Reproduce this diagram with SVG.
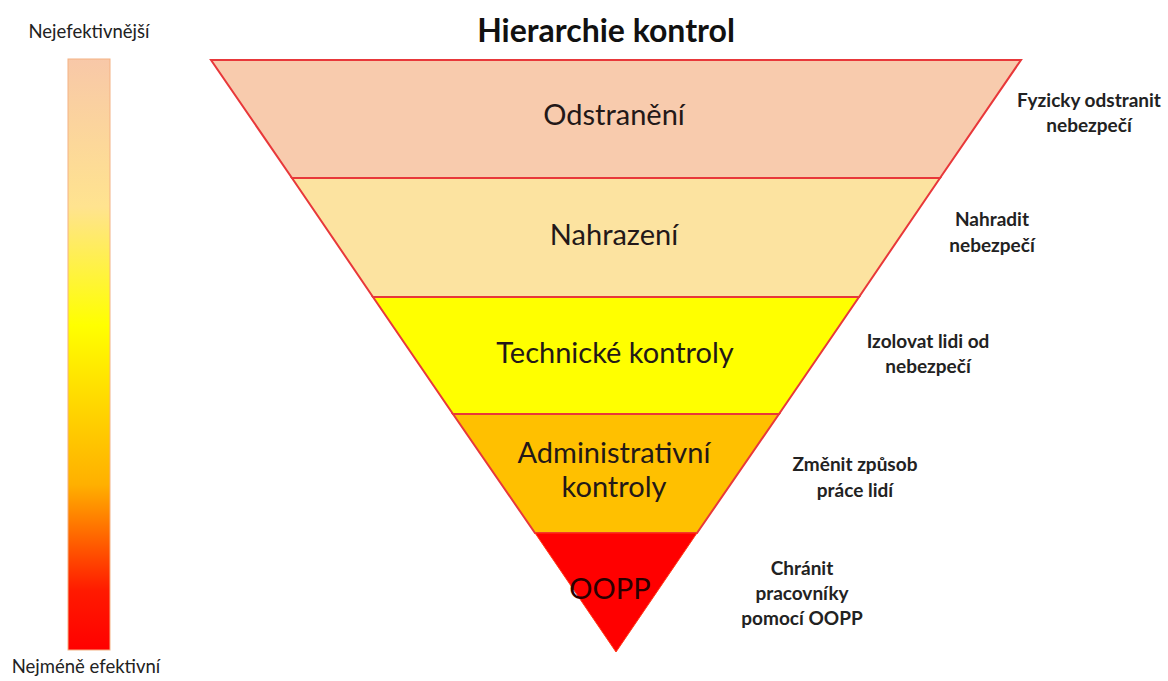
<svg xmlns="http://www.w3.org/2000/svg" width="1168" height="681" viewBox="0 0 1168 681">
<defs>
<linearGradient id="bar" x1="0" y1="0" x2="0" y2="1">
<stop offset="0" stop-color="#F8C8A8"/>
<stop offset="0.25" stop-color="#FFE38F"/>
<stop offset="0.45" stop-color="#FFFF00"/>
<stop offset="0.72" stop-color="#FFB000"/>
<stop offset="0.9" stop-color="#FF1A00"/>
<stop offset="1" stop-color="#FF0000"/>
</linearGradient>
</defs>
<style>
.band{stroke:#E8383A;stroke-width:2;stroke-linejoin:miter}
.lbl{font-family:"Lato","Open Sans",sans-serif;font-size:29px;fill:#231818;text-anchor:middle}
.side{font-family:"Lato","Open Sans",sans-serif;font-size:19px;font-weight:bold;fill:#222;text-anchor:middle}
.cap{font-family:"Lato","Open Sans",sans-serif;font-size:18.5px;fill:#222;text-anchor:middle}
</style>
<rect width="1168" height="681" fill="#FFFFFF"/>
<g id="title"><text x="606" y="42" text-anchor="middle" style="font-family:Lato,'Open Sans',sans-serif;font-size:32px;font-weight:bold;fill:#111">Hierarchie kontrol</text></g>
<g id="scale">
<text class="cap" x="89" y="38">Nejefektivnější</text>
<rect x="68" y="59" width="42" height="591" fill="url(#bar)" stroke="#F4B183" stroke-width="1"/>
<text class="cap" x="86" y="673">Nejméně efektivní</text>
</g>
<g id="odstraneni">
<polygon class="band" points="211,60 1021,60 940,178 292,178" fill="#F8CBAD"/>
<text class="lbl" x="614" y="125">Odstranění</text>
</g>
<g id="nahrazeni">
<polygon class="band" points="292,178 940,178 859,297 373,297" fill="#FCE3A0"/>
<text class="lbl" x="614" y="245">Nahrazení</text>
</g>
<g id="technicke">
<polygon class="band" points="373,297 859,297 779,414 453,414" fill="#FFFF00"/>
<text class="lbl" x="615" y="363">Technické kontroly</text>
</g>
<g id="administrativni">
<polygon class="band" points="453,414 779,414 697,533 535,533" fill="#FFC000"/>
<text class="lbl" x="614" y="463">Administrativní</text>
<text class="lbl" x="614" y="497">kontroly</text>
</g>
<g id="oopp">
<polygon points="535,533 697,533 616,652" fill="#FF0000" stroke="#FF3A1A" stroke-width="1"/>
<text class="lbl" x="610" y="599" style="fill:#2A0000">OOPP</text>
</g>
<g id="notes">
<text class="side" x="1089" y="107">Fyzicky odstranit</text>
<text class="side" x="1089" y="132">nebezpečí</text>
<text class="side" x="992" y="226">Nahradit</text>
<text class="side" x="992" y="252">nebezpečí</text>
<text class="side" x="928" y="348">Izolovat lidi od</text>
<text class="side" x="928" y="373">nebezpečí</text>
<text class="side" x="855" y="471">Změnit způsob</text>
<text class="side" x="855" y="497">práce lidí</text>
<text class="side" x="802" y="575">Chránit</text>
<text class="side" x="802" y="600">pracovníky</text>
<text class="side" x="802" y="625">pomocí OOPP</text>
</g>
</svg>
